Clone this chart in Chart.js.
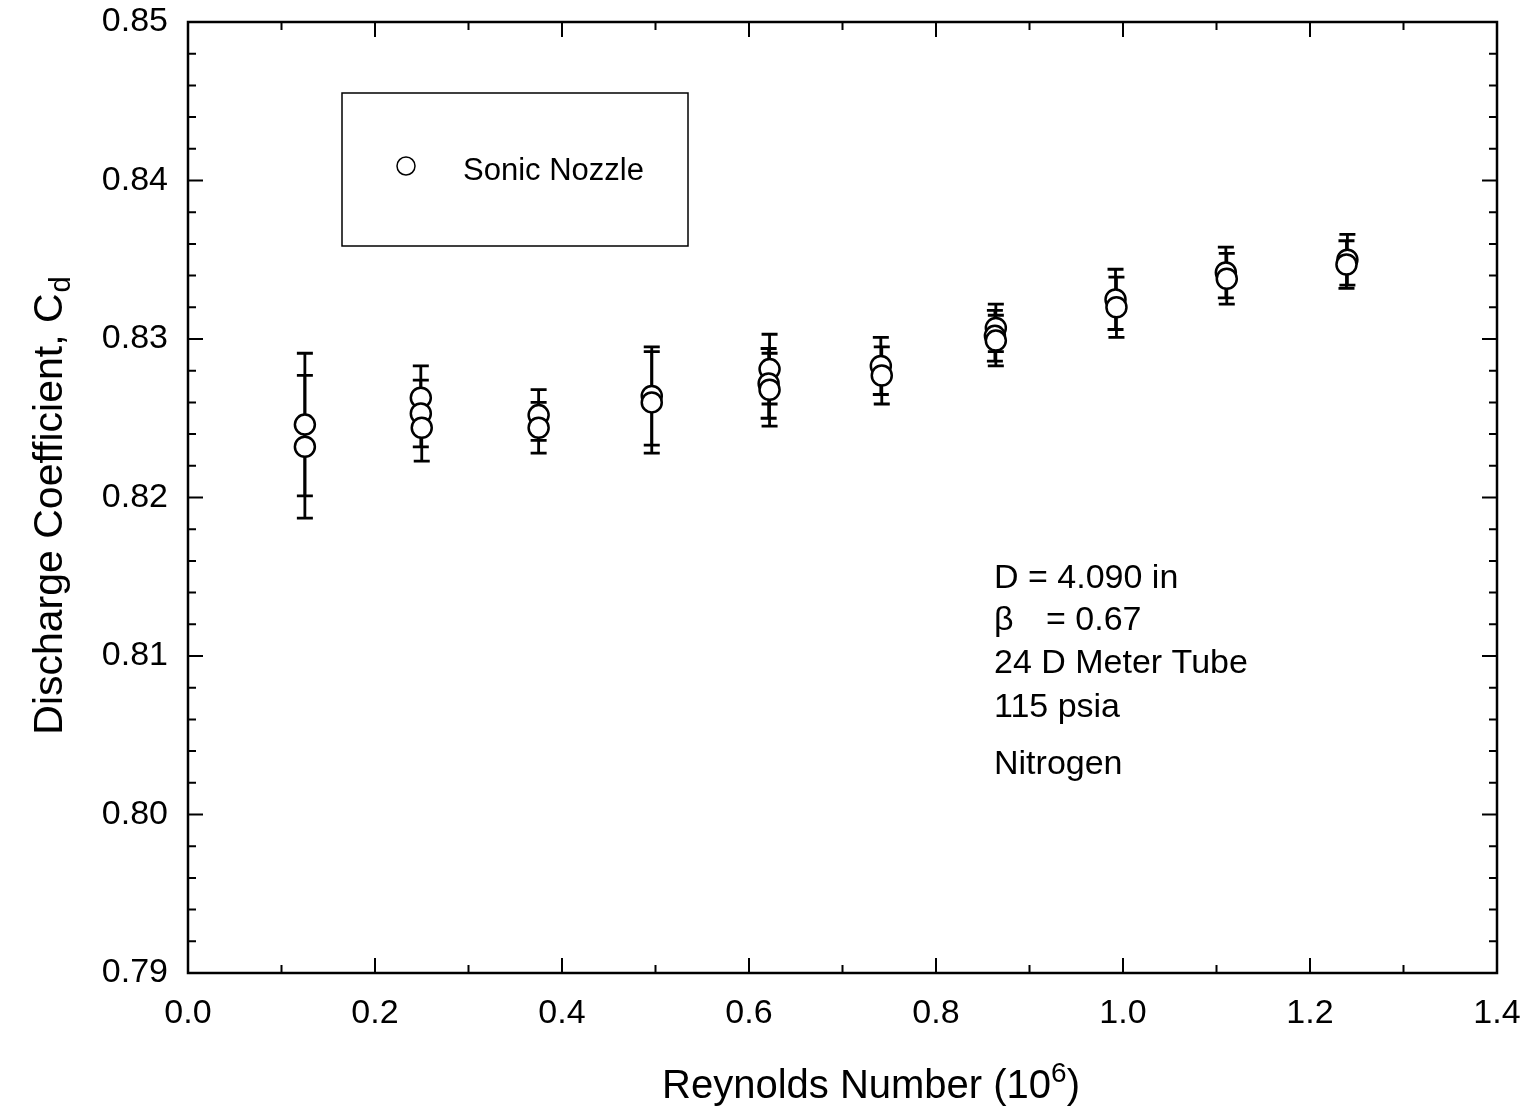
<!DOCTYPE html>
<html>
<head>
<meta charset="utf-8">
<title>Discharge Coefficient vs Reynolds Number</title>
<script src="https://cdn.jsdelivr.net/npm/chart.js@4.4.1/dist/chart.umd.min.js"></script>
<style>
  html, body { margin: 0; padding: 0; background: #fff; }
  #wrap { position: relative; width: 1537px; height: 1114px; }
</style>
</head>
<body>
<div id="wrap"><canvas id="cd-chart"></canvas></div>
<script>
'use strict';

// ── Data ───────────────────────────────────────────────────
// Reynolds number, in units of 10^6
const reynolds = [
    0.125, 0.125,
    0.249, 0.249, 0.250,
    0.375, 0.375,
    0.496, 0.496,
    0.622, 0.621, 0.622,
    0.741, 0.742,
    0.864, 0.863, 0.864,
    0.992, 0.993,
    1.110, 1.111,
    1.240, 1.239,
];
// discharge coefficient Cd
const cdValues = [
    0.8246, 0.8232,
    0.8263, 0.8253, 0.8244,
    0.8252, 0.8244,
    0.8264, 0.8260,
    0.8281, 0.8272, 0.8268,
    0.8283, 0.8277,
    0.8307, 0.8302, 0.8299,
    0.8325, 0.8320,
    0.8342, 0.8338,
    0.8350, 0.8347,
];
// half-length of each error bar
const cdErrors = [
    0.0045, 0.0045,
    0.0020, 0.0021, 0.0021,
    0.0016, 0.0016,
    0.0031, 0.0032,
    0.0022, 0.0022, 0.0023,
    0.0018, 0.0018,
    0.0015, 0.0016, 0.0016,
    0.0019, 0.0019,
    0.0016, 0.0016,
    0.0016, 0.0015,
];

const xTicks = [0.0, 0.2, 0.4, 0.6, 0.8, 1.0, 1.2, 1.4];
const yTicks = [0.79, 0.80, 0.81, 0.82, 0.83, 0.84, 0.85];

const legendLabel = 'Sonic Nozzle';
const infoLines = ['D = 4.090 in', '= 0.67', '24 D Meter Tube', '115 psia', 'Nitrogen'];

// ── Look ───────────────────────────────────────────────────
const FONT = "'Liberation Sans', Arial, Helvetica, sans-serif";
Chart.defaults.color = '#000';
Chart.defaults.font.family = FONT;

// ── Plugins ────────────────────────────────────────────────
// box round the plot plus inward ticks on all four sides
const frame = {
    id: 'frame',
    beforeDatasetsDraw(chart) {
        const { ctx, chartArea: a, scales: { x, y } } = chart;
        ctx.save();
        ctx.strokeStyle = '#000';
        ctx.lineWidth = 2.5;
        ctx.strokeRect(a.left, a.top, a.right - a.left, a.bottom - a.top);
        ctx.lineWidth = 2;
        ctx.beginPath();
        for (let k = 0; k <= 30; k++) {
            const py = y.getPixelForValue(y.min + k * 0.002);
            const len = k % 5 === 0 ? 15 : 8;
            ctx.moveTo(a.left, py); ctx.lineTo(a.left + len, py);
            ctx.moveTo(a.right, py); ctx.lineTo(a.right - len, py);
        }
        for (let k = 0; k <= 14; k++) {
            const px = x.getPixelForValue(x.min + k * 0.1);
            const len = k % 2 === 0 ? 15 : 8;
            ctx.moveTo(px, a.bottom); ctx.lineTo(px, a.bottom - len);
            ctx.moveTo(px, a.top); ctx.lineTo(px, a.top + len);
        }
        ctx.stroke();
        ctx.restore();
    }
};

const errorBars = {
    id: 'errorBars',
    beforeDatasetsDraw(chart) {
        const { ctx, scales: { x, y } } = chart;
        ctx.save();
        ctx.strokeStyle = '#000';
        ctx.lineWidth = 2.8;
        reynolds.forEach((re, i) => {
            const px = x.getPixelForValue(re);
            const top = y.getPixelForValue(cdValues[i] + cdErrors[i]);
            const bot = y.getPixelForValue(cdValues[i] - cdErrors[i]);
            ctx.beginPath();
            ctx.moveTo(px, top); ctx.lineTo(px, bot);
            ctx.moveTo(px - 8, top); ctx.lineTo(px + 8, top);
            ctx.moveTo(px - 8, bot); ctx.lineTo(px + 8, bot);
            ctx.stroke();
        });
        ctx.restore();
    }
};

// legend box, info text and the two axis titles
const decorations = {
    id: 'decorations',
    afterDraw(chart) {
        const { ctx } = chart;
        ctx.save();
        ctx.fillStyle = '#000';
        ctx.strokeStyle = '#000';

        // legend
        ctx.lineWidth = 1.5;
        ctx.strokeRect(342, 93, 346, 153);
        ctx.beginPath();
        ctx.arc(406, 166, 9, 0, Math.PI * 2);
        ctx.stroke();
        ctx.font = `31px ${FONT}`;
        ctx.textBaseline = 'alphabetic';
        ctx.fillText(legendLabel, 463, 180);

        // info block
        ctx.font = `34px ${FONT}`;
        const baselines = [588, 630, 673, 717, 774];
        infoLines.forEach((line, i) => {
            if (i === 1) {
                ctx.fillText('\u03B2', 994, baselines[i]);
                ctx.fillText(line, 1046, baselines[i]);
            } else {
                ctx.fillText(line, 994, baselines[i]);
            }
        });

        // x title with superscript
        const xMain = 'Reynolds Number (10';
        ctx.font = `40px ${FONT}`;
        const w1 = ctx.measureText(xMain).width;
        const w3 = ctx.measureText(')').width;
        ctx.font = `28px ${FONT}`;
        const w2 = ctx.measureText('6').width;
        let xs = 871 - (w1 + w2 + w3) / 2;
        ctx.font = `40px ${FONT}`;
        ctx.fillText(xMain, xs, 1098);
        ctx.font = `28px ${FONT}`;
        ctx.fillText('6', xs + w1, 1082);
        ctx.font = `40px ${FONT}`;
        ctx.fillText(')', xs + w1 + w2, 1098);

        // y title with subscript
        const yMain = 'Discharge Coefficient, C';
        ctx.translate(62, 506);
        ctx.rotate(-Math.PI / 2);
        ctx.font = `41px ${FONT}`;
        const m1 = ctx.measureText(yMain).width;
        ctx.font = `29px ${FONT}`;
        const m2 = ctx.measureText('d').width;
        const ys = -(m1 + m2) / 2;
        ctx.font = `41px ${FONT}`;
        ctx.fillText(yMain, ys, 0);
        ctx.font = `29px ${FONT}`;
        ctx.fillText('d', ys + m1 + 1, 8);
        ctx.restore();
    }
};

// ── Chart ──────────────────────────────────────────────────
const points = reynolds.map((re, i) => ({ x: re, y: cdValues[i] }));

new Chart(document.getElementById('cd-chart'), {
    type: 'scatter',
    data: {
        datasets: [{
            label: legendLabel,
            data: points,
            pointStyle: 'circle',
            pointRadius: 10,
            pointHoverRadius: 10,
            pointBorderWidth: 2.5,
            pointBorderColor: '#000',
            pointBackgroundColor: '#fff',
        }],
    },
    options: {
        responsive: true,
        maintainAspectRatio: false,
        animation: false,
        events: [],
        layout: { padding: { top: 22, right: 40, left: 0, bottom: 0 } },
        scales: {
            x: {
                type: 'linear',
                min: xTicks[0],
                max: xTicks[xTicks.length - 1],
                afterBuildTicks: s => { s.ticks = xTicks.map(v => ({ value: v })); },
                afterFit: s => {
                    s.height = 141;
                    s.paddingLeft = 0;
                    s.paddingRight = 0;
                },
                ticks: {
                    font: { size: 34 },
                    color: '#000',
                    padding: 20,
                    maxRotation: 0,
                    callback: v => (+v).toFixed(1),
                },
                grid: { display: false, drawTicks: false },
                border: { display: false },
            },
            y: {
                type: 'linear',
                min: yTicks[0],
                max: yTicks[yTicks.length - 1],
                afterBuildTicks: s => { s.ticks = yTicks.map(v => ({ value: v })); },
                afterFit: s => {
                    s.width = 188;
                    s.paddingTop = 0;
                    s.paddingBottom = 0;
                },
                ticks: {
                    font: { size: 34 },
                    color: '#000',
                    padding: 20,
                    callback: v => (+v).toFixed(2),
                },
                grid: { display: false, drawTicks: false },
                border: { display: false },
            },
        },
        plugins: {
            legend: { display: false },
            tooltip: { enabled: false },
        },
    },
    plugins: [frame, errorBars, decorations],
});
</script>
</body>
</html>
